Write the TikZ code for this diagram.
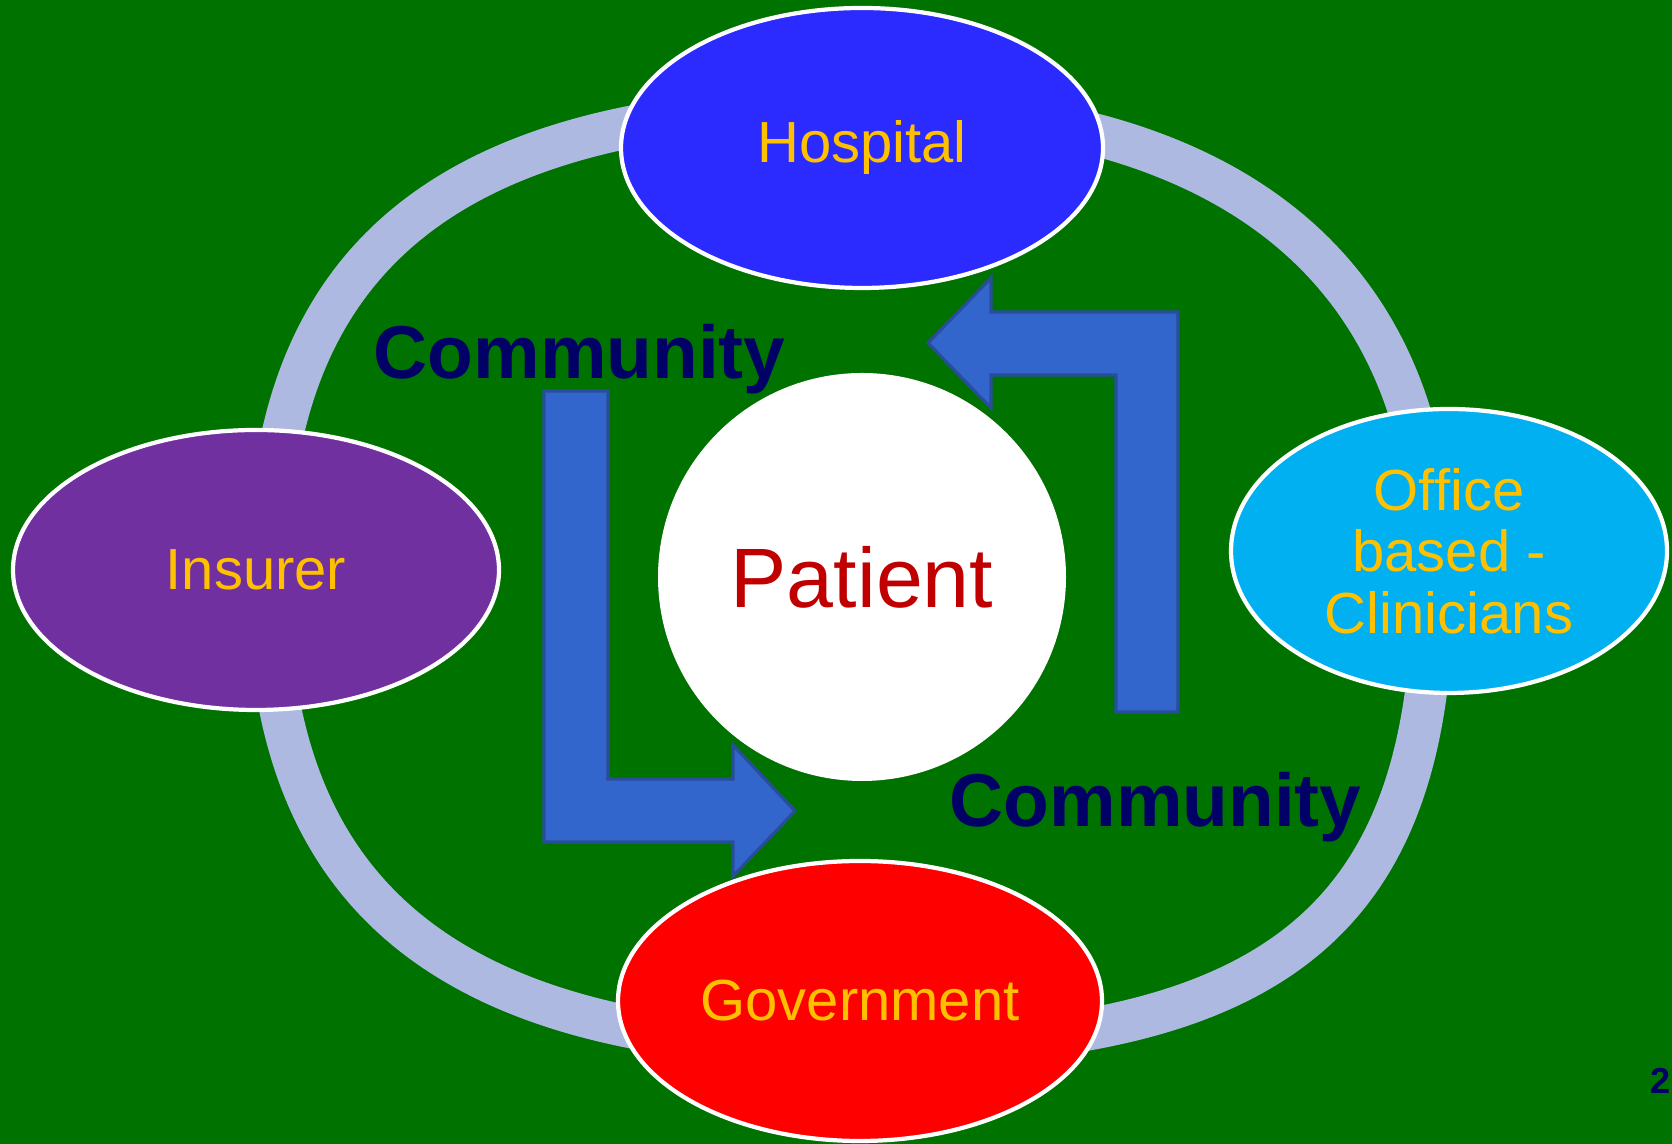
\documentclass[tikz,border=0pt]{standalone}
\usepackage{fontspec}
\setmainfont{Liberation Sans}
\usetikzlibrary{shapes.geometric}

\definecolor{bggreen}{RGB}{0,114,0}
\definecolor{ringblue}{RGB}{173,185,225}
\definecolor{hospblue}{RGB}{43,43,255}
\definecolor{insurerpurple}{RGB}{112,48,160}
\definecolor{officecyan}{RGB}{0,176,240}
\definecolor{govred}{RGB}{255,0,0}
\definecolor{labelgold}{RGB}{255,192,0}
\definecolor{patientred}{RGB}{192,0,0}
\definecolor{commnavy}{RGB}{0,0,102}
\definecolor{arrowfill}{RGB}{51,102,204}
\definecolor{arrowline}{RGB}{40,78,155}

\tikzset{
  party/.style={ellipse, draw=white, line width=1.2pt, inner sep=0pt,
    text=labelgold, font=\fontsize{16.5}{17.5}\selectfont, align=center},
  community/.style={inner sep=0pt, text=commnavy,
    font=\fontsize{21.3}{24}\selectfont\bfseries},
  blockarrow/.style={fill=arrowfill, draw=arrowline, line width=0.9pt}
}

\begin{document}
\begin{tikzpicture}
  \useasboundingbox (0,0) rectangle (16.72,11.44);
  \fill[bggreen] (0,0) rectangle (16.72,11.44);

  % ring
  \draw[ringblue, line width=4.2mm]
    (2.68,5.67) .. controls (2.68,8.90) and (4.52,10.37) .. (8.58,10.37)
    .. controls (12.32,10.37) and (14.33,8.73) .. (14.33,5.67)
    .. controls (14.33,2.24) and (12.78,0.97) .. (8.58,0.97)
    .. controls (4.52,0.97) and (2.68,2.44) .. cycle;

  \node[party, fill=hospblue, minimum width=4.82cm, minimum height=2.80cm]
    (hospital) at (8.62,9.96) {Hospital};
  \node[party, fill=insurerpurple, minimum width=4.86cm, minimum height=2.80cm]
    (insurer) at (2.56,5.74) {Insurer};
  \node[party, fill=officecyan, minimum width=4.36cm, minimum height=2.84cm]
    (office) at (14.49,5.93) {Office\\based -\\Clinicians};
  \node[party, fill=govred, minimum width=4.84cm, minimum height=2.80cm]
    (government) at (8.60,1.43) {Government};

  \node[circle, fill=white, minimum size=4.08cm, inner sep=0pt, text=patientred,
    font=\fontsize{24}{28}\selectfont] (patient) at (8.62,5.67) {Patient};

  % arrows
  \draw[blockarrow] (5.44,7.53) -- (6.08,7.53) -- (6.08,3.65) -- (7.33,3.65)
    -- (7.33,3.99) -- (7.95,3.33) -- (7.33,2.68) -- (7.33,3.02) -- (5.44,3.02) -- cycle;
  \draw[blockarrow] (11.78,4.32) -- (11.78,8.32) -- (9.91,8.32) -- (9.91,8.66)
    -- (9.28,8.01) -- (9.91,7.36) -- (9.91,7.69) -- (11.16,7.69) -- (11.16,4.32) -- cycle;

  \node[community, anchor=base west] (commtop) at (3.73,7.65) {Community};
  \node[community, anchor=base west] (commbottom) at (9.49,3.17) {Community};

  \node[inner sep=0pt, anchor=base east, text=commnavy,
    font=\fontsize{10.3}{12}\selectfont\bfseries] (pagenum) at (16.71,0.50) {2};
\end{tikzpicture}
\end{document}
